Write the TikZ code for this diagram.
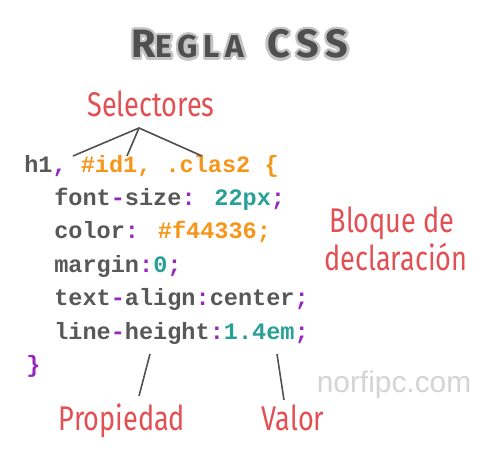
\documentclass[tikz,border=0pt]{standalone}
\usepackage{fontspec}
\setmainfont{Liberation Sans}
\newfontfamily\codefont{Liberation Mono}
\newfontfamily\labelfont[FakeStretch=0.79]{Fira Sans}
\newfontfamily\titlefont[LetterSpace=18]{Fira Sans}
\usetikzlibrary{positioning,calc}
\definecolor{CodeGray}{RGB}{88,88,88}
\definecolor{CodePurple}{RGB}{150,40,190}
\definecolor{CodeOrange}{RGB}{245,150,25}
\definecolor{CodeTeal}{RGB}{40,160,150}
\definecolor{LabelRed}{RGB}{226,80,84}
\definecolor{LineGray}{RGB}{80,80,80}
\definecolor{HaloGray}{RGB}{195,195,195}
\definecolor{MarkGray}{RGB}{212,212,212}

\newcommand\pun[1]{\textcolor{CodePurple}{#1}}
\newcommand\org[1]{\textcolor{CodeOrange}{#1}}
\newcommand\tea[1]{\textcolor{CodeTeal}{#1}}
\newcommand\titletext{{\fontsize{22.5}{22}\selectfont R}{\fontsize{18}{18}\selectfont EGLA}\hspace{1.3em}{\fontsize{22.5}{22}\selectfont CSS}}

\begin{document}
\begin{tikzpicture}[x=0.02cm, y=-0.02cm,
  codeline/.style={anchor=base west, inner sep=0pt, text=CodeGray, font=\codefont\bfseries\fontsize{13.4}{15}\selectfont},
  redlabel/.style={anchor=base, inner sep=0pt, text=LabelRed, font=\labelfont\fontsize{19.5}{22}\selectfont},
  pointer/.style={draw=LineGray, line width=0.9pt},
  titlestyle/.style={anchor=base, inner sep=0pt, font=\titlefont\bfseries}]
  \useasboundingbox[fill=white] (0,0) rectangle (500,456);

  % title with halo
  \foreach \a in {0,30,...,330}
    \node[titlestyle, text=HaloGray] at ([shift={(\a:2.4)}] 240,58) {\titletext};
  \node[titlestyle, text=CodeGray!90!black] (title) at (240,58) {\titletext};

  % code block
  \node[codeline] (l1) at (24,172) {h1\pun{,} \org{\#id1, .clas2 \{}};
  \node[codeline] (l2) at (54,205.4) {font\pun{-}size\pun{:} \tea{22px}\pun{;}};
  \node[codeline] (l3) at (54,238.8) {color\pun{:} \org{\#f44336;}};
  \node[codeline] (l4) at (54,272.2) {margin\pun{:}\tea{0}\pun{;}};
  \node[codeline] (l5) at (54,305.6) {text\pun{-}align\pun{:}center\pun{;}};
  \node[codeline] (l6) at (54,339) {line\pun{-}height\pun{:}\tea{1.4em}\pun{;}};
  \node[codeline] (l7) at (26,372.4) {\pun{\}}};

  % labels
  \node[redlabel] (sel) at (151,116) {Selectores};
  \node[redlabel] (blq) at (392,232) {Bloque de};
  \node[redlabel] (dcl) at (396,270) {declaración};
  \node[redlabel] (prop) at (122,430) {Propiedad};
  \node[redlabel] (val) at (293,430) {Valor};
  \node[anchor=base, inner sep=0pt, text=MarkGray, font=\fontsize{17}{20}\selectfont] (mark) at (394,392) {norfipc.com};

  % pointers
  \coordinate (apex) at (139,128);
  \coordinate (s1) at (73,156);
  \coordinate (s2) at (127,156);
  \coordinate (s3) at (202,156);
  \draw[pointer] (s1) -- (apex) -- (s3);
  \draw[pointer] (apex) -- (s2);
  \coordinate (p1) at (150,354);
  \coordinate (p2) at (139,396);
  \coordinate (v1) at (277,354);
  \coordinate (v2) at (284,400);
  \draw[pointer] (p1) -- (p2);
  \draw[pointer] (v1) -- (v2);
\end{tikzpicture}
\end{document}
